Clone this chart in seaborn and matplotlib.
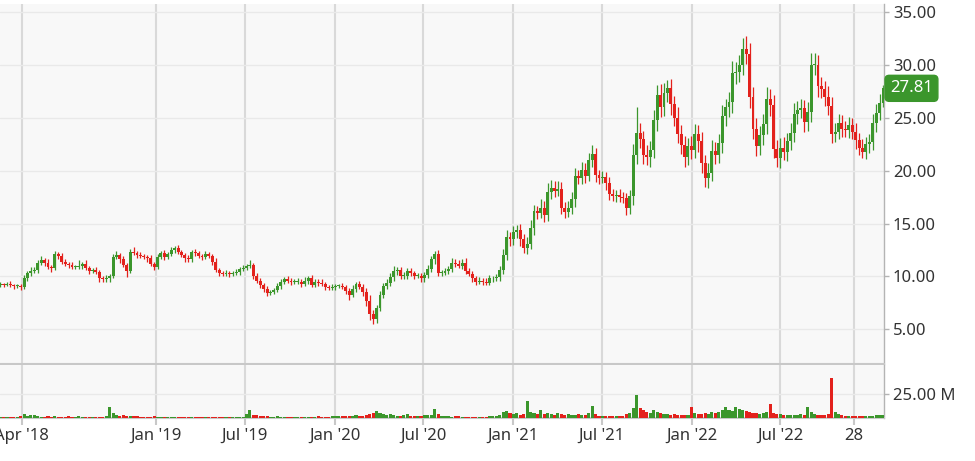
import numpy as np
import pandas as pd
import matplotlib
matplotlib.use("Agg")
import matplotlib.pyplot as plt
import matplotlib.dates as mdates
import matplotlib.transforms as mtrans
import seaborn as sns

# ---------------- data (weekly bars) ----------------
start_date = "2018-02-16"
first_open = 9.2
closes = [
    9.3, 9.2, 9.3, 9.2, 9.1, 9.1, 9.0, 9.8, 10.3, 10.5,
    10.6, 11.3, 11.5, 11.3, 10.9, 10.8, 12.1, 11.9, 11.4, 11.2,
    11.1, 10.9, 10.9, 11.0, 11.2, 10.8, 10.5, 10.6, 10.4, 9.8,
    9.7, 9.8, 10.0, 11.8, 12.0, 11.6, 11.1, 10.5, 12.3, 12.2,
    12.0, 11.9, 11.8, 11.7, 11.2, 10.9, 11.8, 12.2, 11.8, 12.1,
    12.5, 12.7, 12.3, 12.0, 11.7, 11.6, 12.3, 12.2, 11.9, 11.8,
    12.1, 11.9, 11.4, 10.6, 10.3, 10.2, 10.3, 10.2, 10.3, 10.4,
    10.7, 10.8, 11.0, 11.1, 10.0, 9.6, 9.2, 8.8, 8.4, 8.5,
    8.7, 9.1, 9.5, 9.7, 9.6, 9.5, 9.5, 9.5, 9.3, 9.6,
    9.8, 9.2, 9.5, 9.4, 9.3, 9.0, 8.9, 9.0, 9.1, 9.1,
    9.0, 8.6, 8.2, 8.8, 9.3, 9.0, 8.5, 7.7, 6.4, 6.0,
    7.0, 8.2, 9.1, 9.4, 9.9, 10.5, 10.6, 10.0, 10.0, 10.5,
    10.3, 10.0, 10.0, 9.8, 10.1, 10.7, 11.6, 12.1, 10.3, 10.3,
    10.5, 10.7, 11.3, 11.2, 11.0, 11.3, 10.5, 10.2, 9.8, 9.5,
    9.6, 9.5, 9.4, 9.8, 9.8, 9.9, 10.6, 12.0, 13.7, 13.5,
    14.2, 14.4, 13.5, 12.7, 13.1, 14.6, 16.2, 16.0, 16.5, 15.8,
    18.0, 18.4, 18.1, 18.3, 16.5, 16.1, 16.5, 17.3, 19.5, 19.3,
    20.1, 19.5, 21.0, 21.6, 19.6, 19.3, 19.4, 18.8, 17.8, 17.6,
    17.7, 17.5, 17.4, 16.5, 17.6, 21.5, 23.6, 23.0, 21.5, 21.3,
    22.0, 24.8, 27.2, 26.0, 27.4, 27.8, 26.3, 25.0, 23.5, 22.4,
    21.3, 22.3, 22.0, 23.5, 22.8, 20.7, 19.3, 19.8, 21.9, 21.5,
    22.6, 25.2, 26.0, 26.5, 29.3, 29.4, 30.0, 31.5, 31.1, 27.0,
    24.0, 22.3, 23.4, 24.4, 26.8, 26.2, 22.1, 21.2, 22.2, 21.8,
    22.8, 23.6, 25.4, 25.8, 25.9, 24.6, 25.6, 30.0, 30.0, 28.0,
    27.7, 27.0, 26.1, 23.5, 23.7, 24.5, 24.0, 23.9, 24.3, 23.7,
    22.9, 22.2, 21.8, 22.5, 22.7, 24.5, 25.5, 26.4, 27.81,
]
wick_up = [
    0.2, 0.1, 0.2, 0.3, 0.1, 0.2, 0.2, 0.3, 0.2, 0.4,
    0.3, 0.2, 0.4, 0.2, 0.3, 0.2, 0.3, 0.2, 0.3, 0.2,
    0.2, 0.3, 0.2, 0.5, 0.2, 0.3, 0.2, 0.2, 0.3, 0.2,
    0.2, 0.3, 0.2, 0.3, 0.4, 0.2, 0.3, 0.2, 0.3, 0.5,
    0.2, 0.3, 0.2, 0.2, 0.3, 0.2, 0.3, 0.2, 0.3, 0.2,
    0.3, 0.2, 0.3, 0.2, 0.2, 0.3, 0.2, 0.3, 0.2, 0.2,
    0.3, 0.2, 0.2, 0.3, 0.2, 0.2, 0.3, 0.2, 0.2, 0.3,
    0.2, 0.3, 0.2, 0.4, 0.2, 0.3, 0.2, 0.2, 0.3, 0.2,
    0.2, 0.3, 0.2, 0.2, 0.3, 0.2, 0.2, 0.3, 0.2, 0.3,
    0.2, 0.3, 0.2, 0.2, 0.3, 0.2, 0.2, 0.3, 0.2, 0.2,
    0.3, 0.2, 0.3, 0.4, 0.2, 0.3, 0.3, 0.4, 0.5, 0.4,
    0.3, 0.4, 0.3, 0.3, 0.4, 0.5, 0.3, 0.3, 0.4, 0.3,
    0.3, 0.2, 0.3, 0.3, 0.3, 0.4, 0.3, 0.3, 0.4, 0.3,
    0.3, 0.3, 0.4, 0.3, 0.3, 0.3, 0.4, 0.3, 0.3, 0.2,
    0.3, 0.2, 0.3, 0.3, 0.2, 0.3, 0.4, 0.6, 0.7, 0.5,
    0.6, 0.5, 0.6, 0.5, 0.6, 0.7, 0.6, 0.5, 0.8, 0.6,
    0.8, 0.7, 0.6, 0.7, 0.6, 0.5, 0.6, 0.7, 0.8, 0.6,
    0.7, 0.6, 0.7, 0.8, 0.6, 0.5, 0.6, 0.5, 0.6, 0.5,
    0.5, 0.6, 0.5, 0.5, 0.6, 1.0, 2.4, 0.9, 0.8, 0.9,
    0.8, 1.0, 0.9, 1.0, 0.9, 0.8, 0.9, 0.8, 1.0, 0.8,
    0.9, 0.8, 1.0, 0.9, 0.8, 0.9, 0.8, 0.9, 1.0, 0.8,
    0.9, 1.0, 0.8, 1.0, 1.1, 0.9, 1.0, 1.1, 1.3, 1.0,
    0.9, 1.0, 0.8, 1.0, 1.1, 0.9, 1.0, 0.8, 0.9, 1.0,
    0.8, 0.9, 1.0, 0.8, 0.9, 0.8, 0.9, 1.2, 1.2, 1.0,
    0.9, 0.8, 1.0, 0.9, 0.8, 0.9, 0.8, 0.7, 0.8, 0.7,
    0.8, 0.7, 0.8, 0.7, 0.8, 0.9, 0.8, 0.9, 0.3,
]
wick_dn = [
    0.2, 0.2, 0.1, 0.2, 0.3, 0.2, 0.3, 0.2, 0.2, 0.3,
    0.2, 0.3, 0.2, 0.3, 0.2, 0.4, 0.2, 0.3, 0.2, 0.2,
    0.3, 0.2, 0.2, 0.2, 0.3, 0.2, 0.3, 0.2, 0.2, 0.3,
    0.2, 0.2, 0.3, 0.2, 0.2, 0.3, 0.2, 0.6, 0.2, 0.2,
    0.3, 0.2, 0.2, 0.3, 0.2, 0.3, 0.2, 0.2, 0.3, 0.2,
    0.2, 0.3, 0.2, 0.2, 0.3, 0.2, 0.2, 0.3, 0.2, 0.3,
    0.2, 0.2, 0.3, 0.2, 0.3, 0.2, 0.2, 0.3, 0.2, 0.2,
    0.3, 0.2, 0.2, 0.2, 0.3, 0.2, 0.3, 0.3, 0.3, 0.2,
    0.2, 0.2, 0.3, 0.2, 0.2, 0.3, 0.2, 0.2, 0.3, 0.2,
    0.3, 0.2, 0.2, 0.3, 0.2, 0.3, 0.2, 0.2, 0.3, 0.2,
    0.2, 0.3, 0.4, 0.2, 0.3, 0.2, 0.4, 0.5, 0.5, 0.5,
    0.4, 0.3, 0.3, 0.3, 0.3, 0.3, 0.4, 0.3, 0.3, 0.3,
    0.3, 0.3, 0.2, 0.3, 0.3, 0.3, 0.3, 0.4, 0.3, 0.3,
    0.2, 0.3, 0.3, 0.3, 0.2, 0.3, 0.3, 0.2, 0.3, 0.3,
    0.2, 0.3, 0.2, 0.2, 0.3, 0.2, 0.3, 0.4, 0.5, 0.6,
    0.5, 0.6, 0.6, 0.5, 0.6, 0.5, 0.7, 0.6, 0.5, 0.7,
    0.6, 0.7, 0.6, 0.5, 0.6, 0.6, 0.5, 0.6, 0.7, 0.6,
    0.6, 0.7, 0.5, 0.6, 0.7, 0.6, 0.5, 0.6, 0.6, 0.5,
    0.6, 0.5, 0.5, 0.7, 0.6, 0.8, 0.9, 0.8, 0.9, 0.8,
    0.9, 0.8, 1.0, 0.9, 0.8, 0.9, 1.0, 0.8, 0.9, 0.8,
    0.9, 0.8, 0.9, 0.8, 1.0, 0.9, 0.8, 0.9, 0.8, 0.9,
    0.8, 0.9, 1.0, 0.9, 1.0, 1.1, 1.0, 0.9, 1.0, 1.1,
    1.0, 0.9, 0.8, 1.0, 0.9, 1.0, 0.9, 0.8, 0.9, 0.8,
    0.9, 0.8, 0.9, 1.0, 0.8, 0.9, 0.8, 1.0, 0.9, 1.0,
    0.8, 0.9, 0.8, 0.9, 0.8, 0.7, 0.8, 0.7, 0.8, 0.7,
    0.8, 0.7, 0.6, 0.7, 0.8, 0.7, 0.8, 0.7, 0.4,
]
volumes_m = [
    1.0, 1.2, 0.9, 1.1, 1.0, 1.3, 2.5, 4.0, 2.0, 3.0,
    3.5, 1.8, 1.5, 1.2, 1.8, 1.4, 1.6, 1.3, 1.2, 1.5,
    2.0, 1.4, 1.3, 1.6, 1.2, 1.1, 1.4, 1.3, 1.5, 1.2,
    1.4, 1.6, 11.5, 5.0, 3.0, 2.5, 3.2, 2.0, 2.2, 1.8,
    1.6, 1.5, 1.4, 1.2, 1.5, 1.6, 1.3, 1.2, 1.4, 1.0,
    1.1, 1.3, 1.0, 1.2, 1.1, 1.0, 1.2, 1.3, 1.1, 1.0,
    1.2, 1.1, 1.0, 1.3, 1.2, 1.0, 1.4, 1.1, 1.3, 1.2,
    1.5, 1.3, 4.0, 8.0, 3.5, 3.0, 2.2, 2.0, 1.8, 1.5,
    1.4, 1.6, 1.3, 1.5, 1.2, 1.4, 1.3, 1.2, 1.1, 1.0,
    1.2, 1.5, 1.3, 1.6, 1.4, 1.2, 1.5, 2.0, 2.2, 1.8,
    2.5, 2.0, 2.3, 2.5, 2.8, 2.4, 2.6, 3.0, 4.0, 5.0,
    7.0, 5.5, 4.0, 3.5, 4.5, 3.0, 2.5, 2.2, 2.8, 4.0,
    2.0, 2.2, 1.8, 2.5, 3.0, 2.8, 3.5, 9.5, 4.0, 2.0,
    1.8, 1.6, 1.5, 1.8, 1.6, 1.4, 1.5, 1.3, 1.2, 1.4,
    1.5, 1.3, 1.2, 1.6, 2.0, 2.5, 3.0, 6.0, 7.5, 5.0,
    4.0, 5.5, 3.5, 4.5, 18.0, 6.0, 5.0, 4.5, 8.0, 4.0,
    5.0, 4.5, 3.5, 5.0, 4.0, 3.5, 4.0, 3.0, 3.5, 4.0,
    3.2, 3.0, 5.0, 12.0, 4.0, 2.5, 2.2, 2.0, 1.8, 2.0,
    1.8, 2.0, 2.5, 4.0, 5.5, 10.0, 24.0, 10.0, 8.0, 6.0,
    5.5, 8.0, 6.0, 5.0, 4.5, 4.0, 3.5, 4.0, 3.5, 3.0,
    3.5, 3.0, 11.0, 5.0, 4.0, 4.5, 5.0, 4.0, 6.0, 5.0,
    6.5, 8.0, 11.0, 8.0, 7.0, 11.0, 9.0, 8.0, 7.0, 6.0,
    5.5, 5.0, 4.5, 5.0, 6.0, 15.0, 5.0, 4.0, 4.5, 3.5,
    3.0, 3.5, 3.0, 3.5, 4.0, 3.5, 11.0, 6.0, 4.0, 3.5,
    3.0, 3.5, 4.0, 42.0, 6.0, 4.0, 3.0, 2.5, 2.2, 2.5,
    2.0, 2.2, 2.5, 2.0, 2.2, 2.5, 3.0, 2.8, 3.0,
]
price_ticks = [5, 10, 15, 20, 25, 30, 35]
volume_ticks = [25]
date_ticks = ["2018-04-01", "2019-01-01", "2019-07-01", "2020-01-01", "2020-07-01",
              "2021-01-01", "2021-07-01", "2022-01-01", "2022-07-01", "2022-11-28"]
date_labels = ["Apr '18", "Jan '19", "Jul '19", "Jan '20", "Jul '20",
               "Jan '21", "Jul '21", "Jan '22", "Jul '22", "28"]
last_price = 27.81

# ---------------- style ----------------
GREEN = "#3b962c"
RED = "#e3211c"
GRID_V = "#d9d9d9"
GRID_H = "#e9e9e9"
SPINE = "#b4b4b4"
TXT = "#333333"

sns.set_theme(style="white")
plt.rcParams["font.family"] = ["Noto Sans", "DejaVu Sans"]

n = len(closes)
dates = pd.date_range(start_date, periods=n, freq="7D")
x = mdates.date2num(dates)
c = np.array(closes, dtype=float)
o = np.r_[first_open, c[:-1]]
up = c >= o
body_lo = np.minimum(o, c)
body_hi = np.maximum(o, c)
body_h = np.maximum(body_hi - body_lo, 0.08)
highs = body_hi + np.array(wick_up)
lows = body_lo - np.array(wick_dn)
colors = np.where(up, GREEN, RED)

W, H = 975, 461
fig = plt.figure(figsize=(W / 100, H / 100), dpi=100, facecolor="white")
axp = fig.add_axes([0, (H - 364) / H, 884 / W, 360 / H])
axv = fig.add_axes([0, (H - 418) / H, 884 / W, 53 / H], sharex=axp)

for ax in (axp, axv):
    ax.set_facecolor("#f8f8f8")
    for s in ("left", "top"):
        ax.spines[s].set_visible(False)
    ax.spines["right"].set_color(SPINE)
    ax.spines["right"].set_linewidth(1.0)
    ax.spines["bottom"].set_color("#c8c8c8")
    ax.spines["bottom"].set_linewidth(1.5)
    ax.grid(False)

tick_x = mdates.date2num(pd.to_datetime(date_ticks))
for ax in (axp, axv):
    for tx in tick_x:
        ax.axvline(tx, color=GRID_V, lw=1.5, zorder=0)
for p in price_ticks:
    axp.axhline(p, color=GRID_H, lw=1.0, zorder=0)
for v in volume_ticks:
    axv.axhline(v, color=GRID_H, lw=1.0, zorder=0)

# candles
axp.vlines(x, lows, highs, colors=colors, lw=0.9, zorder=2)
axp.bar(x, body_h, bottom=body_lo, width=6.0, color=colors, linewidth=0, zorder=3)

# volume via seaborn
df = pd.DataFrame({"x": x, "vol": volumes_m, "dir": np.where(up, "up", "down")})
sns.barplot(data=df, x="x", y="vol", hue="dir", palette={"up": GREEN, "down": RED},
            native_scale=True, dodge=False, errorbar=None, legend=False,
            saturation=1, width=0.9, linewidth=0, ax=axv, zorder=3)
axv.set_xlabel("")
axv.set_ylabel("")

x_left = mdates.date2num(pd.Timestamp("2018-02-15 18:00"))
x_right = mdates.date2num(pd.Timestamp("2023-01-29"))
axp.set_xlim(x_left, x_right)
axv.set_xlim(x_left, x_right)
axp.set_ylim(1.69, 35.8)
axv.set_ylim(0, 55.2)

axp.yaxis.tick_right()
axp.set_yticks(price_ticks)
axp.set_yticklabels([f"{p:.2f}" for p in price_ticks])
axp.tick_params(axis="y", which="both", right=True, left=False, length=3.5,
                width=1, color=SPINE, labelsize=12, labelcolor=TXT, pad=3)
axp.tick_params(axis="x", bottom=False, labelbottom=False)

axv.yaxis.tick_right()
axv.set_yticks(volume_ticks)
axv.set_yticklabels([f"{v:.2f} M" for v in volume_ticks])
axv.tick_params(axis="y", right=True, left=False, length=3.5, width=1, color=SPINE,
                labelsize=12, labelcolor=TXT, pad=3)
axv.set_xticks(tick_x)
axv.set_xticklabels(date_labels)
axv.tick_params(axis="x", bottom=True, length=5, width=1.5, color="#c8c8c8",
                labelsize=12, labelcolor=TXT, pad=2)

# last price tag
trans = mtrans.blended_transform_factory(axp.transAxes, axp.transData)
axp.text(1 + 6 / 884, last_price, f"{last_price:.2f}", transform=trans,
         ha="left", va="center", color="white", fontsize=12, zorder=10, clip_on=False,
         bbox=dict(boxstyle="round,pad=0.3,rounding_size=0.25", fc=GREEN, ec=GREEN))

fig.savefig("out.png", dpi=100, facecolor="white")
